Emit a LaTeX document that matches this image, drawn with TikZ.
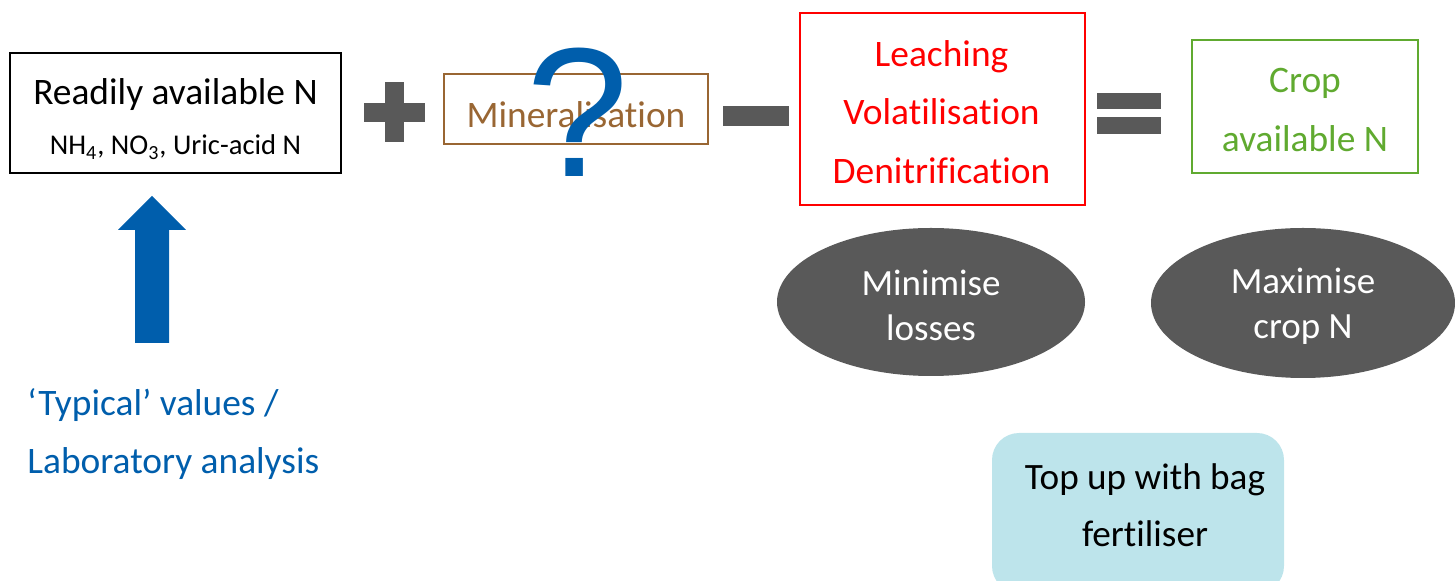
\documentclass[tikz,border=0pt]{standalone}
\usepackage{fontspec}
\setmainfont{Carlito}[Ligatures=NoCommon]
\newfontfamily\queryfont{Liberation Sans}
\usetikzlibrary{shapes.geometric}
\definecolor{opgrey}{RGB}{89,89,89}
\definecolor{nblue}{RGB}{0,94,172}
\definecolor{minbrown}{RGB}{153,102,51}
\definecolor{cropgreen}{RGB}{96,170,48}
\definecolor{bagblue}{RGB}{189,228,235}
\tikzset{
  every node/.style={font=\fontsize{18.7}{29.3}\selectfont, inner sep=0pt},
  termbox/.style={draw, line width=0.8pt},
  termtext/.style={align=center},
  aimblob/.style={ellipse, fill=opgrey},
  aimtext/.style={text=white, align=center,
    font=\fontsize{18.5}{22.5}\selectfont}
}
\begin{document}
\begin{tikzpicture}[x=0.5pt, y=-0.5pt]
    \clip (0,0) rectangle (1455,581);
    % Terms of the balance
    \node[termbox, minimum width=165.5pt, minimum height=60pt] (ready) at (175.5,113) {};
    \node[termtext, font=\fontsize{18.7}{25}\selectfont] (readytext) at (175.5,119)
      {Readily available N\\{\fontsize{14.3}{25}\selectfont NH\textsubscript{4}, NO\textsubscript{3}, Uric-acid N}};
    \node[termbox, draw=minbrown, minimum width=132pt, minimum height=35pt]
      (mineral) at (576,109) {};
    \node[termtext, text=minbrown] (mineraltext) at (576,115) {Mineralisation};
    \node[text=nblue, font=\queryfont\fontsize{92}{92}\selectfont] (query)
      at (577.5,112.5) {?};
    \node[termbox, draw=red, minimum width=142.5pt, minimum height=96pt]
      (losses) at (942.5,109) {};
    \node[termtext, text=red] (lossestext) at (941.5,112)
      {Leaching\\Volatilisation\\Denitrification};
    \node[termbox, draw=cropgreen, minimum width=113pt, minimum height=66.5pt]
      (crop) at (1305,106.5) {};
    \node[termtext, text=cropgreen] (croptext) at (1305,110) {Crop\\available N};
    % Operators
    \fill[opgrey] (364,103) rectangle (425,122);
    \fill[opgrey] (385,82) rectangle (404,142);
    \fill[opgrey] (723,106) rectangle (789,126);
    \fill[opgrey] (1097,93) rectangle (1161,109);
    \fill[opgrey] (1097,117) rectangle (1161,134);
    % Source of the readily available N
    \fill[nblue] (135,343) -- (135,230) -- (118,230) -- (152,196)
      -- (186,230) -- (169,230) -- (169,343) -- cycle;
    \node[text=nblue, align=left, anchor=west] (typical) at (27,434)
      {‘Typical’ values /\\Laboratory analysis};
    % Aims
    \node[aimblob, minimum width=154pt, minimum height=74pt] (minimise) at (931,302) {};
    \node[aimtext] (minimisetext) at (931,305) {Minimise\\losses};
    \node[aimblob, minimum width=152pt, minimum height=75pt] (maximise) at (1303,303) {};
    \node[aimtext] (maximisetext) at (1303,306) {Maximise\\crop N};
    \node[fill=bagblue, rounded corners=13.5pt, minimum width=146pt,
      minimum height=80pt] (bagbox) at (1138,513) {};
    \node[align=center, font=\fontsize{18.6}{28.5}\selectfont] (topup)
      at (1145,505) {Top up with bag\\fertiliser};
\end{tikzpicture}
\end{document}
